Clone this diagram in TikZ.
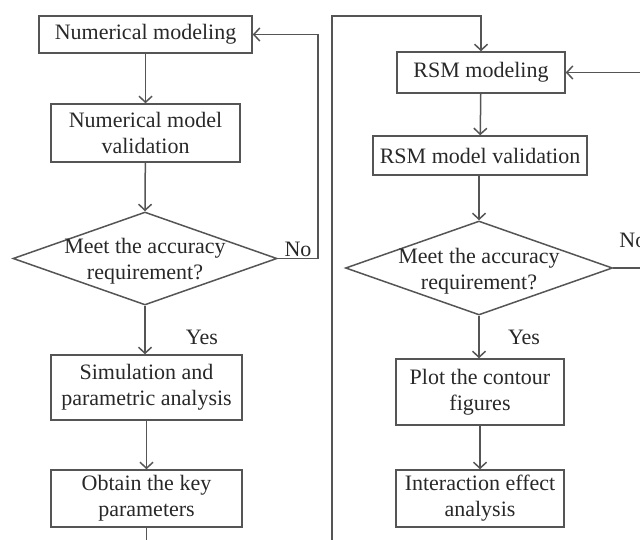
\documentclass[tikz,border=0pt]{standalone}
\usepackage{fontspec}
\setmainfont{Liberation Serif}
\usepackage{xcolor}
\usepackage{tikz}
\usetikzlibrary{shapes.geometric,arrows.meta,positioning}
\definecolor{linegray}{RGB}{85, 85, 85}
\definecolor{textgray}{RGB}{40, 40, 40}

\begin{document}
\begin{tikzpicture}[x=0.5pt, y=-0.5pt,
    every node/.style={font=\fontsize{11}{13}\selectfont, text=textgray},
    procbox/.style={draw=linegray, line width=0.75pt, align=center, inner sep=0pt},
    decide/.style={diamond, draw=linegray, line width=0.75pt, inner sep=0pt},
    flow/.style={draw=linegray, line width=0.75pt, -{Straight Barb[length=3pt, width=6.5pt]}},
    plain/.style={draw=linegray, line width=0.75pt}]
    \useasboundingbox (0,0) rectangle (640,539);
    \clip (0,0) rectangle (640,539);

    % Left column
    \node[procbox, minimum width=106.5pt, minimum height=18.5pt] (nummod) at (145.5,34.5) {Numerical modeling};
    \node[procbox, minimum width=94.5pt, minimum height=29pt] (numval) at (145.5,133) {Numerical model\\validation};
    \node[decide, minimum width=132pt, minimum height=46.5pt,
          label={[align=center, yshift=-1.5pt]center:{Meet the accuracy\\requirement?}}] (chk1) at (145,258.5) {};
    \node[procbox, minimum width=95.5pt, minimum height=32.5pt] (sim) at (146.5,387.5) {Simulation and\\parametric analysis};
    \node[procbox, minimum width=95.5pt, minimum height=28.5pt] (keypar) at (146.5,498.5) {Obtain the key\\parameters};

    % Right column
    \node[procbox, minimum width=84pt, minimum height=20.5pt] (rsmmod) at (481,72.5) {RSM modeling};
    \node[procbox, minimum width=107pt, minimum height=19.5pt] (rsmval) at (480,155.5) {RSM model validation};
    \node[decide, minimum width=133.5pt, minimum height=47pt,
          label={[align=center, yshift=-1.5pt]center:{Meet the accuracy\\requirement?}}] (chk2) at (479,268) {};
    \node[procbox, minimum width=84pt, minimum height=33pt] (plot) at (480,392) {Plot the contour\\figures};
    \node[procbox, minimum width=84pt, minimum height=28.5pt] (inter) at (480,498.5) {Interaction effect\\analysis};

    % Bends and loose ends
    \coordinate (nobend) at (318,34.5);
    \coordinate (lowend) at (332,560);
    \coordinate (topbend) at (332,16);
    \coordinate (farright) at (660,268);
    \coordinate (keyend) at (146.5,560);

    % Connectors
    \draw[flow] (nummod) -- (numval);
    \draw[flow] (numval) -- (chk1.north);
    \draw[flow] (chk1.east) -| (nobend) -- (nummod.east);
    \draw[flow] (chk1.south) -- (chk1.south |- sim.north);
    \draw[flow] (sim) -- (keypar);
    \draw[plain] (keypar.south) -- (keyend);
    \draw[flow] (lowend) -- (topbend) -| (rsmmod.north);
    \draw[flow] (rsmmod) -- (rsmval);
    \draw[flow] (rsmval.south -| chk2.north) -- (chk2.north);
    \draw[flow] (chk2.south) -- (chk2.south |- plot.north);
    \draw[flow] (plot) -- (inter);
    \draw[flow] (chk2.east) -- (farright) |- (rsmmod.east);

    % Branch labels
    \node (no1) at (298,249) {No};
    \node[anchor=west, inner sep=0pt] (no2) at (619,240) {No};
    \node (yes1) at (202,337) {Yes};
    \node (yes2) at (524,337) {Yes};
\end{tikzpicture}
\end{document}
